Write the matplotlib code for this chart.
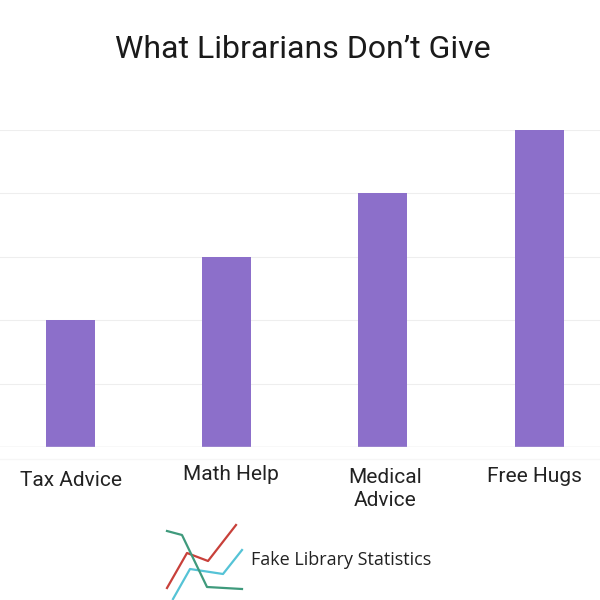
import matplotlib
matplotlib.use("Agg")
import matplotlib.pyplot as plt

# chart values
categories = ["Tax Advice", "Math Help", "Medical\nAdvice", "Free Hugs"]
values = [2, 3, 4, 5]

# logo polylines in pixels
logo_red_x = [167, 187, 208, 236]
logo_red_y = [588, 553, 561, 525]
logo_blue_x = [173, 190, 223, 242]
logo_blue_y = [599, 569, 574, 550]
logo_green_x = [167, 182, 207, 242]
logo_green_y = [531, 535, 587, 589]

# where the category labels sit, in pixels
label_x = [71, 231, 385, 534]
label_y = [480, 474, 489, 477]

plt.rcParams['font.family'] = ['Roboto', 'DejaVu Sans']

fig = plt.figure(figsize=(6, 6), dpi=100)
ax = fig.add_axes([0, 153 / 600, 1, 317 / 600])

ax.bar(range(len(categories)), values, width=0.314, color="#8c6fca", zorder=3)
ax.set_xlim(-0.451, 3.39)
ax.set_ylim(0, 5)
ax.set_yticks([0, 1, 2, 3, 4, 5])
ax.set_yticklabels([])
ax.set_xticks([])
ax.grid(axis="y", color="#eeeeee", linewidth=0.8, zorder=0)
ax.tick_params(length=0)
for s in ax.spines.values():
    s.set_visible(False)
ax.axhline(0, color="#e2e2e2", linewidth=1, zorder=4)
# faint second line under the bars
ax.axhline(-0.19, color="#f6f6f6", linewidth=1, clip_on=False)

fig.text(303 / 600, 1 - 50 / 600, "What Librarians Don\u2019t Give", ha="center", va="center",
         fontsize=23, color="#1a1a1a")

for i, name in enumerate(categories):
    fig.text(label_x[i] / 600, 1 - label_y[i] / 600, name, ha="center", va="center",
             fontsize=15, color="#222222", linespacing=1.25)

logo = fig.add_axes([160 / 600, 0, 90 / 600, 80 / 600])
logo.plot(logo_red_x, logo_red_y, color="#c8403a", linewidth=1.6, solid_joinstyle="round")
logo.plot(logo_blue_x, logo_blue_y, color="#55c3d6", linewidth=1.6, solid_joinstyle="round")
logo.plot(logo_green_x, logo_green_y, color="#3f9a7c", linewidth=1.6, solid_joinstyle="round")
logo.set_xlim(160, 250)
logo.set_ylim(600, 520)
logo.axis("off")

fig.text(251 / 600, 1 - 560 / 600, "Fake Library Statistics", ha="left", va="center",
         fontsize=13, color="#222222", family=['Open Sans', 'DejaVu Sans'])

plt.savefig("out.png", dpi=100)
